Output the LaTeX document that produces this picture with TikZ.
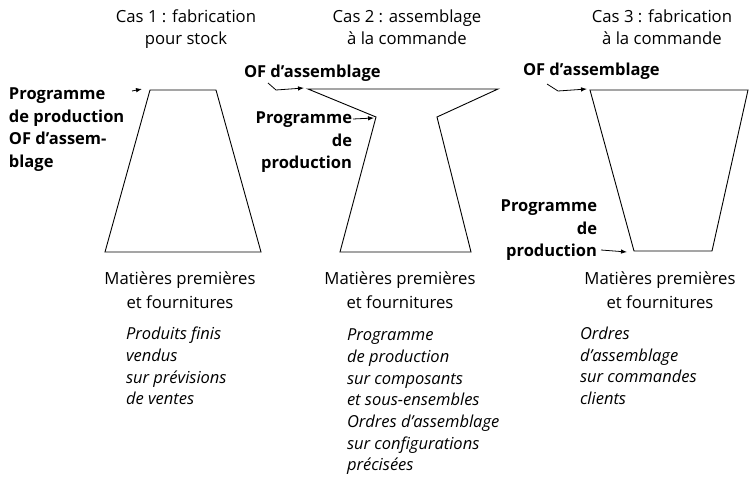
\documentclass[tikz,border=0pt]{standalone}
\usepackage{fontspec}
\setmainfont{Open Sans}
\usetikzlibrary{arrows.meta}
\begin{document}
\begin{tikzpicture}[x=1pt,y=-1pt,
  every node/.style={inner sep=0pt,outer sep=0pt},
  txt/.style={font=\fontsize{16.7}{21.5}\selectfont},
  mat/.style={font=\fontsize{16.7}{23.5}\selectfont, align=center, anchor=north},
  bold/.style={font=\fontsize{16.5}{22.6}\selectfont\bfseries},
  ital/.style={font=\fontsize{16.5}{21.7}\selectfont\itshape, align=left, anchor=north west},
  funnel/.style={line width=0.9pt, line join=miter},
  ptr/.style={line width=0.8pt, -{Latex[length=6pt,width=4.5pt]}}]
\useasboundingbox (0,0) rectangle (750,479);

% column headings
\node[txt, align=center, anchor=north] (h1) at (186,10) {Cas 1 : fabrication\\pour stock};
\node[txt, align=center, anchor=north] (h2) at (407,10) {Cas 2 : assemblage\\à la commande};
\node[txt, align=center, anchor=north] (h3) at (662,10) {Cas 3 : fabrication\\à la commande};

% case 1: make to stock
\draw[funnel] (150,90) coordinate (a1) -- (216,90) -- (261,252) -- (105,252) -- cycle;
\node[bold, align=left, anchor=north west] (l1) at (9,88) {Programme\\de production\\OF d’assem-\\blage};
\coordinate (s1) at (132,91);
\draw[ptr] (s1) -- ([xshift=-8pt,yshift=1pt]a1);

% case 2: assemble to order
\draw[funnel] (308,89) coordinate (a2) -- (498,89) -- (437,117) -- (471,252)
  -- (340,252) -- (376,117) coordinate (b2) -- cycle;
\node[bold, anchor=west] (o2) at (244,73) {OF d’assemblage};
\coordinate (s2) at (268,83);
\draw[ptr] (s2) -- (276,90) -- ([xshift=-4pt,yshift=1pt]a2);
\node[bold, align=right, anchor=north east] (l2) at (352,112) {Programme\\de\\production};
\coordinate (t2) at (353,119);
\draw[ptr] (t2) -- ([xshift=-2pt,yshift=-1pt]b2);

% case 3: make to order
\draw[funnel] (590,90) coordinate (a3) -- (748,90) -- (712,251) -- (634,251) coordinate (b3) -- cycle;
\node[bold, anchor=west] (o3) at (523,71) {OF d’assemblage};
\coordinate (s3) at (547,84);
\draw[ptr] (s3) -- (558,91) -- ([xshift=-3pt,yshift=1pt]a3);
\node[bold, align=right, anchor=north east] (l3) at (597,200) {Programme\\de\\production};
\coordinate (t3) at (601,250);
\draw[ptr] (t3) -- ([xshift=-7pt,yshift=-1pt]b3);

% raw materials
\node[mat] (m1) at (180,272) {Matières premières\\et fournitures};
\node[mat] (m2) at (400,272) {Matières premières\\et fournitures};
\node[mat] (m3) at (660,272) {Matières premières\\et fournitures};

% descriptions
\node[ital] (d1) at (126,327) {Produits finis\\vendus\\sur prévisions\\de ventes};
\node[ital] (d2) at (347,329) {Programme\\de production\\sur composants\\et sous-ensembles\\Ordres d’assemblage\\sur configurations\\précisées};
\node[ital] (d3) at (580,327) {Ordres\\d’assemblage\\sur commandes\\clients};
\end{tikzpicture}
\end{document}
